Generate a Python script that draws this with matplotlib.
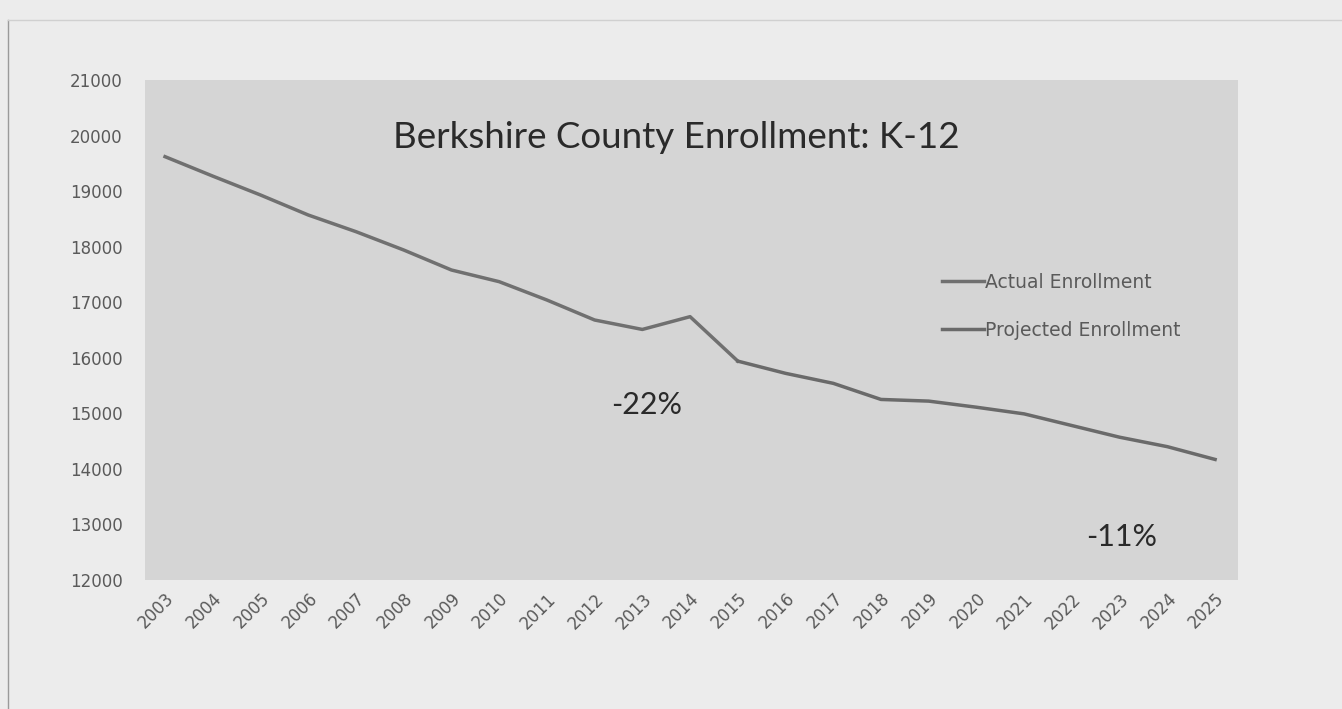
import matplotlib
matplotlib.use("Agg")
import matplotlib.pyplot as plt

# ---- data ----
years = list(range(2003, 2026))
enrollment = [19620, 19270, 18930, 18570, 18270, 17940, 17580, 17370, 17040,
              16680, 16510, 16740, 15940, 15720, 15540, 15250, 15220, 15110,
              14990, 14780, 14570, 14400, 14170]
split_year = 2015
actual_years = [y for y in years if y <= split_year]
actual_vals = enrollment[:len(actual_years)]
proj_years = [y for y in years if y >= split_year]
proj_vals = enrollment[len(actual_years) - 1:]

title = "Berkshire County Enrollment: K-12"
series_labels = ["Actual Enrollment", "Projected Enrollment"]
annotations = [("-22%", 2013.1, 15150), ("-11%", 2023.05, 12780)]
yticks = list(range(12000, 21001, 1000))

# ---- figure ----
fig = plt.figure(figsize=(13.42, 7.09), dpi=100)
fig.patch.set_facecolor("#ececec")

ax = fig.add_axes([145 / 1342, 1 - 580 / 709, 1093 / 1342, 500 / 709])
ax.set_facecolor("#d5d5d5")

ax.plot(actual_years, actual_vals, color="#707070", lw=2.5, label=series_labels[0],
        solid_joinstyle="round")
ax.plot(proj_years, proj_vals, color="#6a6a6a", lw=2.5, label=series_labels[1],
        solid_joinstyle="round")

ax.set_xlim(years[0] - 0.42, years[-1] + 0.48)
ax.set_ylim(yticks[0], yticks[-1])
ax.set_yticks(yticks)
ax.set_yticklabels([str(v) for v in yticks])
ax.set_xticks(years)
ax.set_xticklabels([str(y) for y in years], rotation=45, ha="right",
                   rotation_mode="anchor")

for s in ax.spines.values():
    s.set_visible(False)
ax.tick_params(axis="both", length=0, colors="#5a5a5a", labelsize=12)
ax.tick_params(axis="y", pad=16)
ax.tick_params(axis="x", pad=7)

ax.text(0.486, 0.885, title, transform=ax.transAxes, ha="center", va="center",
        fontsize=26.5, family="Lato", color="#2a2a2a")

for txt, x, y in annotations:
    ax.text(x, y, txt, ha="center", va="center", fontsize=22, family="Lato",
            color="#2a2a2a")

leg = ax.legend(loc="upper left", bbox_to_anchor=(0.714, 0.648), frameon=False,
                handlelength=2.2, handletextpad=0.1, labelspacing=1.55,
                fontsize=13.5)
for t in leg.get_texts():
    t.set_color("#5a5a5a")

# page border lines of the scanned figure
fig.add_artist(plt.Line2D([8 / 1342, 8 / 1342], [0, 1 - 20 / 709],
                          transform=fig.transFigure, color="#9a9a9a", lw=1))
fig.add_artist(plt.Line2D([8 / 1342, 1], [1 - 20 / 709, 1 - 20 / 709],
                          transform=fig.transFigure, color="#d0d0d0", lw=1))

fig.savefig("out.png", dpi=100, facecolor=fig.get_facecolor())
